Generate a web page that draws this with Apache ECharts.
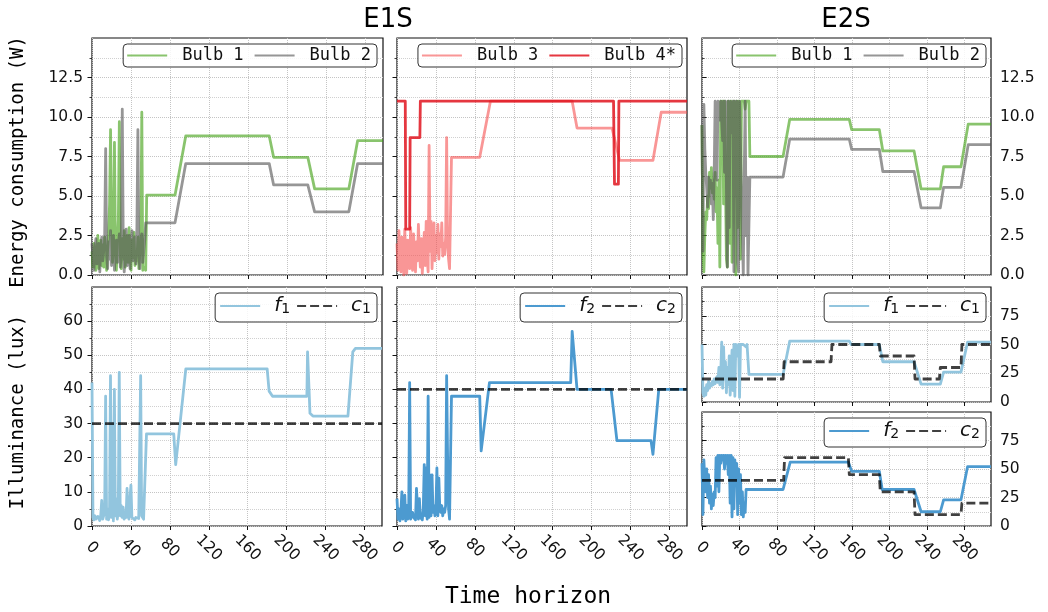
<!DOCTYPE html>
<html><head><meta charset="utf-8">
<script src="https://cdn.jsdelivr.net/npm/echarts@6.0.0/dist/echarts.min.js"></script>
<style>html,body{margin:0;padding:0;background:#fff}#c{width:1048px;height:612px}</style>
</head><body><div id="c"></div>
<script>
// ---------------- tick labels / ranges ----------------
const xTicks = [0, 40, 80, 120, 160, 200, 240, 280];
const yTicksEnergy = [0, 2.5, 5, 7.5, 10, 12.5];
const yTicksLuxE1S = [0, 10, 20, 30, 40, 50, 60];
const yTicksLuxE2S = [0, 25, 50, 75];
const X_MAX_E1S = 298, X_MAX_E2S = 308;
const Y_MAX_ENERGY = 15, Y_MAX_LUX_E1S = 70, Y_MAX_LUX_E2S = 100;

// ---------------- E1S energy (W) ----------------
// noisy start: one value per time step from t=0
const e1sBulb1Noise = [1.5,0.5,2.0,0.8,0.3,1.8,2.5,0.4,1.2,2.2,0.6,1.9,0.5,2.4,1.0,0.3,1.6,2.6,4.5,9.2,3.0,0.8,2.0,8.4,1.5,0.3,2.1,3.5,9.7,1.2,0.4,2.3,1.0,2.8,0.5,1.7,2.5,0.8,3.0,1.4,0.3,2.2,1.1,2.7,0.6,1.5,0.9,2.4,0.4,1.3,2.0,10.3,0.3,0.2,0.5,0.3];
const e1sBulb1Steps = [[56,5.05],[85,5.05],[96,8.8],[181.5,8.8],[186,7.45],[221,7.45],[228,5.45],[263,5.45],[272,8.5],[298,8.5]];
const e1sBulb2Noise = [2.0,1.0,0.3,1.7,2.3,0.7,1.4,2.0,0.2,1.6,2.4,0.9,1.5,2.6,8.0,1.2,0.4,2.1,1.0,2.8,0.6,1.8,2.5,0.3,1.4,2.2,0.8,1.9,2.6,0.5,1.5,10.5,2.0,0.2,1.7,2.9,0.6,1.3,2.5,0.4,1.9,2.8,0.9,1.6,2.4,0.7,3.0,9.2,1.3,0.4,2.0,2.6,0.8,1.5,2.2,3.3];
const e1sBulb2Steps = [[56,3.3],[85,3.3],[96,7.05],[181.5,7.05],[186,5.7],[221,5.7],[228,4.0],[263,4.0],[272,7.05],[298,7.05]];
const e1sBulb3Noise = [2.0,0.3,2.8,1.0,0.2,2.4,1.5,0.0,2.9,1.2,0.1,2.2,1.7,0.4,3.0,1.0,0.3,2.6,1.4,0.2,2.1,0.9,3.2,1.6,0.5,2.3,0.1,1.3,2.7,0.6,3.4,1.1,0.2,8.2,1.5,3.4,0.4,2.2,3.3,0.9,2.5,1.4,3.2,1.0,2.6,1.8,3.3,1.2,2.0,1.3,2.4,8.7,2.0,1.0,0.4,0.3];
const e1sBulb3Steps = [[56,7.45],[85,7.45],[96,11],[180,11],[185,9.3],[221,9.3],[228.7,7.25],[263,7.25],[271.5,10.3],[298,10.3]];
const e1sBulb4 = [[0,11],[8.5,11],[9,2.9],[13,2.9],[13.5,8.7],[23.5,8.7],[24,11],[222.5,11],[223.5,5.75],[227.5,5.75],[228,11],[298,11]];

// ---------------- E2S energy (W) ----------------
const e2sBulb1Noise = [9.5,1.5,0.2,2.5,4.0,3.5,5.0,4.2,6.5,5.5,6.8,5.2,6.0,4.8,6.5,4.0,5.5,2.0,6.0,0.5,11,8.0,11,4.5,11,6.0,1.0,0.5,11,7.0,2.0,11,0.8,5.0,11,9.0,0.0,11,3.0,11,7.0,1.0,11,11,11,11,10.5,11,11,11,11];
const e2sBulb1Steps = [[51,7.5],[86.4,7.5],[93.5,9.85],[157,9.85],[159.5,9.2],[189,9.2],[192.7,7.85],[226,7.85],[233.5,5.45],[254,5.45],[257.5,6.85],[276,6.85],[283.7,9.55],[308,9.55]];
const e2sBulb2Noise = [9.5,1.5,10.8,8.0,6.5,5.5,4.3,6.2,5.0,6.0,4.5,5.8,3.5,6.5,11,11,6.0,11,11,9.8,11,11,8.5,11,6.5,11,11,0.5,11,3.0,11,11,9.0,11,0.2,11,5.0,11,0.8,0.2,11,11,11,2.5,0.0,6.2,11,2.5,6.2,0.0,0.0,6.2,6.2];
const e2sBulb2Steps = [[53,6.2],[86.4,6.2],[93.5,8.6],[157,8.6],[159.5,7.95],[189,7.95],[192.7,6.55],[226,6.55],[233.5,4.25],[254,4.25],[257.5,5.55],[276,5.55],[283.7,8.25],[308,8.25]];

// ---------------- E1S illuminance (lux) ----------------
const e1sF1Noise = [42,2.5,1.8,3.0,2.0,1.5,2.8,2.2,1.6,3.2,7.5,2.0,1.5,4.0,38,2.0,5.0,1.8,3.5,44,2.5,30,1.5,40,3.0,8,2.0,4.5,45,3.0,6.0,2.5,5.5,2.0,3.8,2.5,11,3.0,2.0,8,12,2.5,3.0,2.0,1.8,2.5,2.0,3.0,2.2,1.8,44,3.0,2.5,2.0,1.8,2.0];
const e1sF1Steps = [[56,27],[84,27],[86,18],[96.4,46],[180,46],[182,39.5],[185.5,38],[220.8,38],[221.5,51],[224,33],[227,32.2],[263,32.2],[268,51],[270.7,52],[298,52]];
const e1sC1 = [[0,30],[298,30]];
const e1sF2Noise = [8,2,5,1.5,4,10,2,3,9,1.5,6,2,3,42,2,1.5,4,2.5,3,1.8,11,6,2,8,2.5,3,1.8,5,18,3,17,2,38,2.5,15,3,15,4,6,3,5,17,3,14,5,4,6,3,5,4,6,44,20,5,2,2.2];
const e1sF2Steps = [[56,38],[85,38],[86.5,22],[95,42],[178.5,42],[180,57],[185,40],[220,40],[226,25],[261,25],[263,21],[269,40],[298,40]];
const e1sC2 = [[0,40],[298,40]];

// ---------------- E2S illuminance (lux) ----------------
const e2sF1Noise = [50,8,5,12,6,15,10,18,12,16,14,18,15,20,16,19,22,17,30,15,25,52,12,48,20,35,8,30,15,40,6,5,45,10,50,5,50,50,40,50,4,50,50,50,50,50,50,48,50,50];
const e2sF1Steps = [[50,24],[86.4,24],[93.5,53],[157,53],[159,50],[189,50],[192.7,35],[226,35],[233.5,15.5],[254,15.5],[257.5,26],[276,26],[283,52],[308,52]];
const e2sC1 = [[0,20],[86.5,20],[87.5,35],[137.5,35],[138.5,50],[189,50],[190,40],[226,40],[227,20],[253,20],[254,30],[276,30],[277,50],[308,50]];
const e2sF2Noise = [55,10,58,40,30,50,25,45,20,35,15,28,18,30,25,60,35,62,30,62,55,62,58,62,50,62,55,62,45,62,20,62,8,60,15,58,40,55,10,50,20,45,10,30,8,20,12,32,32];
const e2sF2Steps = [[49,32],[86.4,32],[94,56],[156,56],[159.5,48],[189,48],[192,32],[226,32],[233.5,12.5],[254,12.5],[257.5,23],[276,23],[283,52],[308,52]];
const e2sC2 = [[0,40],[87,40],[88,60],[156,60],[157,45],[189,45],[190,30],[226,30],[227,10],[276,10],[277,20],[308,20]];

// ---------------- styling ----------------
const COL = {
  bulb1: 'rgba(65,160,20,0.62)',
  bulb2: 'rgba(85,85,85,0.62)',
  bulb3: 'rgba(245,80,80,0.6)',
  bulb4: 'rgba(225,20,30,0.85)',
  f1: '#92c5de',
  f2: '#4c9ad0',
  c: 'rgba(0,0,0,0.75)'
};
const TICK_FONT = 'DejaVu Sans';
const MONO = 'DejaVu Sans Mono';
const LW = 2.8;

const join = (noise, steps) => noise.map((v, i) => [i, v]).concat(steps);

// grid layout (left, top, width, height) in px
const layout = [
  [92, 38, 291, 237],   // 0 E1S energy bulbs 1/2
  [397, 38, 290, 237],  // 1 E1S energy bulbs 3/4
  [702, 38, 289, 237],  // 2 E2S energy
  [92, 287, 290, 239],  // 3 E1S f1
  [397, 287, 290, 239], // 4 E1S f2
  [702, 287, 289, 115], // 5 E2S f1
  [702, 412, 289, 114]  // 6 E2S f2
];
const xMax = [X_MAX_E1S, X_MAX_E1S, X_MAX_E2S, X_MAX_E1S, X_MAX_E1S, X_MAX_E2S, X_MAX_E2S];
const xShowLabel = [false, false, false, true, true, false, true];
const yCfg = [
  {max: Y_MAX_ENERGY, ticks: yTicksEnergy, pos: 'left', show: true, fmt: v => v.toFixed(1)},
  {max: Y_MAX_ENERGY, ticks: yTicksEnergy, pos: 'left', show: false, fmt: v => v.toFixed(1)},
  {max: Y_MAX_ENERGY, ticks: yTicksEnergy, pos: 'right', show: true, fmt: v => v.toFixed(1)},
  {max: Y_MAX_LUX_E1S, ticks: yTicksLuxE1S, pos: 'left', show: true, fmt: v => String(v)},
  {max: Y_MAX_LUX_E1S, ticks: yTicksLuxE1S, pos: 'left', show: false, fmt: v => String(v)},
  {max: Y_MAX_LUX_E2S, ticks: yTicksLuxE2S, pos: 'right', show: true, fmt: v => String(v)},
  {max: Y_MAX_LUX_E2S, ticks: yTicksLuxE2S, pos: 'right', show: true, fmt: v => String(v)}
];

const gridLine = {show: true, lineStyle: {color: '#c4c4c4', type: 'dotted', width: 1}};

const grids = layout.map(g => ({
  left: g[0], top: g[1], width: g[2], height: g[3],
  containLabel: false, outerBoundsMode: 'none',
  show: true, borderColor: '#111', borderWidth: 1.2, backgroundColor: 'transparent'
}));

const xAxes = layout.map((g, i) => ({
  type: 'value', gridIndex: i, min: 0, max: xMax[i], interval: 40,
  axisLine: {show: false},
  axisTick: {show: true, inside: false, length: 4, customValues: xTicks, lineStyle: {color: '#111', width: 1}},
  axisLabel: {show: xShowLabel[i], customValues: xTicks, rotate: -45, align: 'center', verticalAlign: 'middle',
    margin: 22, fontSize: 15.5, fontFamily: TICK_FONT, color: '#111'},
  splitLine: gridLine
}));

const yAxes = yCfg.map((c, i) => ({
  type: 'value', gridIndex: i, min: 0, max: c.max, interval: c.ticks[1] - c.ticks[0], position: c.pos,
  axisLine: {show: false},
  axisTick: {show: true, inside: false, length: 4.5, customValues: c.ticks, lineStyle: {color: '#111', width: 1}},
  minorTick: {show: true, splitNumber: 2, length: 2.5, lineStyle: {color: '#111', width: 0.8}},
  axisLabel: {show: c.show, customValues: c.ticks, formatter: c.fmt, margin: 9, fontSize: 15.5, fontFamily: TICK_FONT, color: '#111'},
  splitLine: gridLine,
  minorSplitLine: {show: true, lineStyle: {color: '#d0d0d0', type: 'dotted', width: 1}}
}));

function line(gi, name, data, color, dashed) {
  return {
    type: 'line', name, xAxisIndex: gi, yAxisIndex: gi, data,
    symbol: 'none', showSymbol: false, silent: true, animation: false,
    color: color,
    lineStyle: {color, width: LW, type: dashed ? [9, 4] : 'solid', join: 'round'},
    itemStyle: {color}
  };
}

const series = [
  line(0, 'Bulb 1', join(e1sBulb1Noise, e1sBulb1Steps), COL.bulb1),
  line(0, 'Bulb 2', join(e1sBulb2Noise, e1sBulb2Steps), COL.bulb2),
  line(1, 'Bulb 3', join(e1sBulb3Noise, e1sBulb3Steps), COL.bulb3),
  line(1, 'Bulb 4*', e1sBulb4, COL.bulb4),
  line(2, 'Bulb 1', join(e2sBulb1Noise, e2sBulb1Steps), COL.bulb1),
  line(2, 'Bulb 2', join(e2sBulb2Noise, e2sBulb2Steps), COL.bulb2),
  line(3, 'f1', join(e1sF1Noise, e1sF1Steps), COL.f1),
  line(3, 'c1', e1sC1, COL.c, true),
  line(4, 'f2', join(e1sF2Noise, e1sF2Steps), COL.f2),
  line(4, 'c2', e1sC2, COL.c, true),
  line(5, 'f1', join(e2sF1Noise, e2sF1Steps), COL.f1),
  line(5, 'c1', e2sC1, COL.c, true),
  line(6, 'f2', join(e2sF2Noise, e2sF2Steps), COL.f2),
  line(6, 'c2', e2sC2, COL.c, true)
];

const legendBase = {
  orient: 'horizontal', selectedMode: false, itemWidth: 40, itemHeight: 12,
  borderColor: '#333', borderWidth: 1, borderRadius: 4, backgroundColor: 'rgba(255,255,255,0.85)',
  itemStyle: {opacity: 0, borderWidth: 0}
};
function bulbLegend(names, right, top) {
  return Object.assign({}, legendBase, {
    data: names, right, top, itemGap: 10, padding: [3, 6, 3, 3],
    textStyle: {fontFamily: MONO, fontSize: 17, color: '#111', padding: [0, 0, 0, 10]}
  });
}
function mathLegend(names, right, top) {
  return Object.assign({}, legendBase, {
    data: names, right, top, itemGap: 6, padding: [3, 6, 3, 4],
    formatter: n => '{i|' + n[0] + '}{s|' + n.slice(1) + '}',
    textStyle: {
      color: '#111', padding: [0, 0, 0, 9],
      rich: {
        i: {fontFamily: 'DejaVu Sans', fontStyle: 'italic', fontSize: 20, lineHeight: 20, verticalAlign: 'top', padding: [0, 0, 3, 0], color: '#111'},
        s: {fontFamily: 'DejaVu Sans', fontSize: 14, lineHeight: 14, verticalAlign: 'bottom', color: '#111'}
      }
    }
  });
}

const legends = [
  bulbLegend(['Bulb 1', 'Bulb 2'], 1048 - 377, 44),
  bulbLegend(['Bulb 3', 'Bulb 4*'], 1048 - 682, 44),
  bulbLegend(['Bulb 1', 'Bulb 2'], 1048 - 986, 44),
  mathLegend(['f1', 'c1'], 1048 - 377, 293),
  mathLegend(['f2', 'c2'], 1048 - 682, 293),
  mathLegend(['f1', 'c1'], 1048 - 986, 293),
  mathLegend(['f2', 'c2'], 1048 - 986, 418)
];

const graphics = [
  {type: 'text', x: 388, y: 20, style: {text: 'E1S', font: '26px "DejaVu Sans"', fill: '#000', textAlign: 'center', textVerticalAlign: 'middle'}},
  {type: 'text', x: 846, y: 20, style: {text: 'E2S', font: '26px "DejaVu Sans"', fill: '#000', textAlign: 'center', textVerticalAlign: 'middle'}},
  {type: 'text', x: 18, y: 162, rotation: Math.PI / 2, style: {text: 'Energy consumption (W)', font: '19px "DejaVu Sans Mono"', fill: '#000', textAlign: 'center', textVerticalAlign: 'middle'}},
  {type: 'text', x: 18, y: 412, rotation: Math.PI / 2, style: {text: 'Illuminance (lux)', font: '19px "DejaVu Sans Mono"', fill: '#000', textAlign: 'center', textVerticalAlign: 'middle'}},
  {type: 'text', x: 528, y: 597, style: {text: 'Time horizon', font: '23px "DejaVu Sans Mono"', fill: '#000', textAlign: 'center', textVerticalAlign: 'middle'}}
];

const chart = echarts.init(document.getElementById('c'), null, {renderer: 'canvas', width: 1048, height: 612});
chart.setOption({
  backgroundColor: '#fff',
  animation: false,
  grid: grids,
  xAxis: xAxes,
  yAxis: yAxes,
  legend: legends,
  series: series,
  graphic: graphics
});
</script></body></html>
